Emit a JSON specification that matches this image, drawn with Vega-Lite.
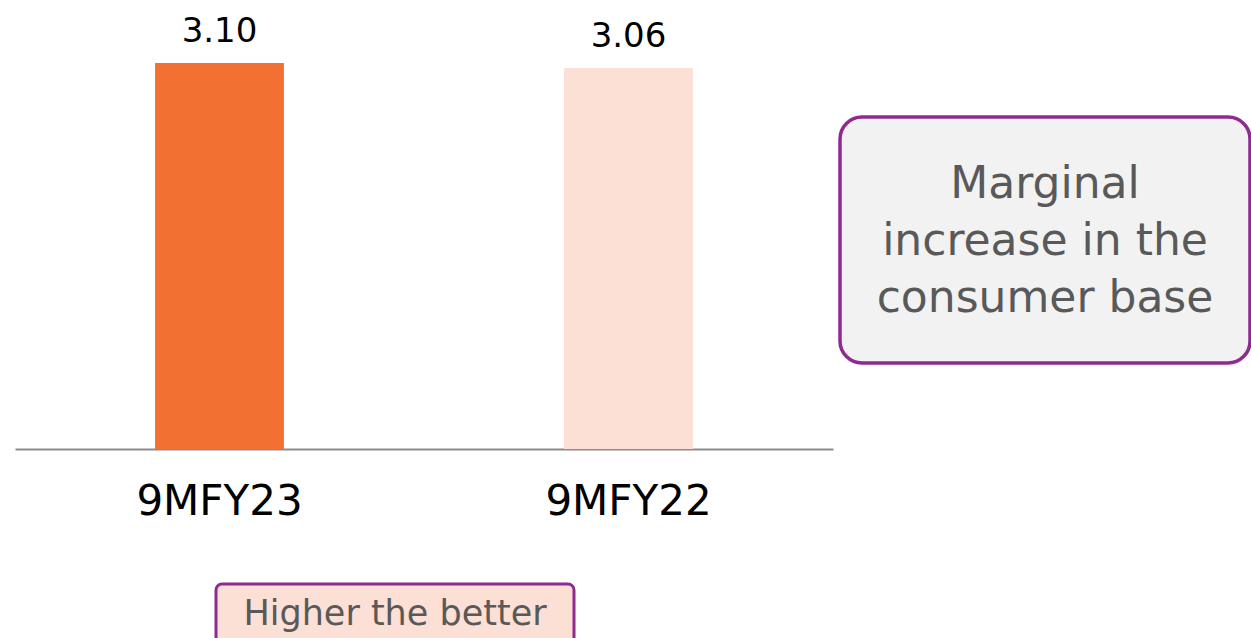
{
  "$schema": "https://vega.github.io/schema/vega-lite/v6.json",
  "padding": {"left": 15, "top": 15, "right": 0, "bottom": 0},
  "bounds": "full",
  "spacing": 60,
  "config": {
    "view": {"stroke": null},
    "font": "DejaVu Sans",
    "text": {"font": "DejaVu Sans"}
  },
  "datasets": {
    "bars": [
      {"period": "9MFY23", "value": 3.10},
      {"period": "9MFY22", "value": 3.06}
    ],
    "note": [{"text": "Marginal\nincrease in the\nconsumer base"}],
    "tag": [{"text": "Higher the better"}]
  },
  "vconcat": [
    {
      "hconcat": [
        {
          "width": 818,
          "height": 418,
          "data": {"name": "bars"},
          "encoding": {
            "x": {
              "field": "period",
              "type": "nominal",
              "sort": ["9MFY23", "9MFY22"],
              "scale": {"paddingInner": 0.685, "paddingOuter": 0.3425},
              "axis": {
                "title": null,
                "ticks": false,
                "labelAngle": 0,
                "labelFontSize": 42,
                "labelColor": "#000000",
                "labelFont": "DejaVu Sans",
                "labelPadding": 32,
                "domainColor": "#8C8C8C",
                "domainWidth": 2
              }
            },
            "y": {
              "field": "value",
              "type": "quantitative",
              "scale": {"domain": [0, 3.357], "nice": false, "zero": true},
              "axis": null
            }
          },
          "layer": [
            {
              "mark": {"type": "bar"},
              "encoding": {
                "color": {
                  "field": "period",
                  "type": "nominal",
                  "scale": {"domain": ["9MFY23", "9MFY22"], "range": ["#F37033", "#FCDFD5"]},
                  "legend": null
                }
              }
            },
            {
              "mark": {"type": "text", "baseline": "alphabetic", "dy": -21, "fontSize": 34, "color": "#000000"},
              "encoding": {
                "text": {"field": "value", "type": "quantitative", "format": ".2f"}
              }
            }
          ]
        },
        {
          "width": 410,
          "height": 246,
          "view": {"fill": "#F2F2F2", "stroke": "#8E2A90", "strokeWidth": 3.5, "cornerRadius": 22},
          "data": {"name": "note"},
          "mark": {"type": "text", "lineBreak": "\n", "fontSize": 44, "lineHeight": 57, "dy": -55, "color": "#595959", "align": "center", "baseline": "middle"},
          "encoding": {"text": {"field": "text", "type": "nominal"}}
        }
      ],
      "spacing": 7,
      "center": true,
      "bounds": "flush"
    },
    {
      "hconcat": [
        {
          "width": 201,
          "height": 60,
          "data": {"values": []},
          "mark": "point"
        },
        {
          "width": 358,
          "height": 60,
          "view": {"fill": "#FCDFD5", "stroke": "#8E2A90", "strokeWidth": 3, "cornerRadius": 6},
          "data": {"name": "tag"},
          "mark": {"type": "text", "fontSize": 35, "color": "#595959", "align": "center", "baseline": "middle"},
          "encoding": {"text": {"field": "text", "type": "nominal"}}
        }
      ],
      "spacing": 0,
      "bounds": "flush"
    }
  ]
}
